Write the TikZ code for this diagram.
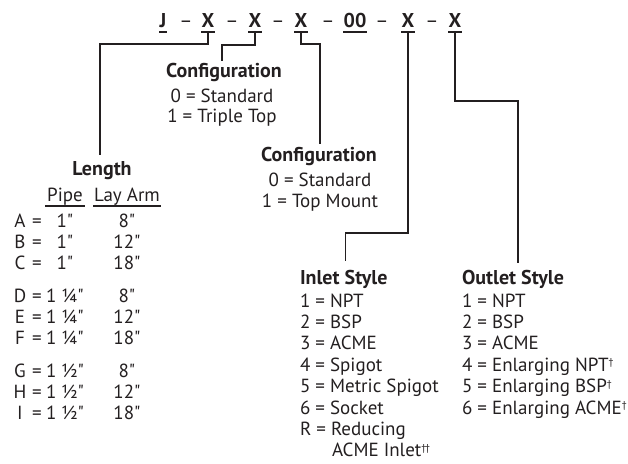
\documentclass[tikz,border=0pt]{standalone}
\usepackage{fontspec}
\setmainfont{PT Sans}
\usetikzlibrary{calc}
\definecolor{ink}{HTML}{231F20}
\begin{document}
\begin{tikzpicture}[x=1pt,y=-1pt,
  every node/.style={inner sep=0pt, outer sep=0pt, text=ink,
    font=\fontsize{19}{22}\selectfont},
  code/.style={font=\fontsize{20}{24}\selectfont\bfseries, text depth=0pt, anchor=base},
  sepdash/.style={font=\fontsize{20}{24}\selectfont, anchor=base},
  head/.style={font=\fontsize{20}{24}\selectfont\bfseries},
  conn/.style={draw=ink, line width=1.2pt},
  uline/.style={draw=ink, line width=2.4pt},
  colrule/.style={draw=ink, line width=1.2pt},
]
\useasboundingbox (0,0) rectangle (628,463);
\newcommand\qq{\textquotedbl}
\newcommand\dg{\raisebox{5.5pt}{\fontsize{10}{10}\selectfont †}}

% part number code
\node[code] (cJ)  at (163,27) {J};
\node[sepdash] (d1) at (186,27) {–};
\node[code] (cX1) at (208,27) {X};
\node[sepdash] (d2) at (232,27) {–};
\node[code] (cX2) at (255,27) {X};
\node[sepdash] (d3) at (278,27) {–};
\node[code] (cX3) at (301,27) {X};
\node[sepdash] (d4) at (328,27) {–};
\node[code] (c00) at (355,27) {00};
\node[sepdash] (d5) at (382,27) {–};
\node[code] (cX5) at (408,27) {X};
\node[sepdash] (d6) at (432,27) {–};
\node[code] (cX6) at (455,27) {X};
\foreach \n in {cJ,cX1,cX2,cX3,c00,cX5,cX6}
  \draw[uline] ([xshift=-0.5pt,yshift=-5pt]\n.south west) -- ([xshift=0.5pt,yshift=-5pt]\n.south east);

% length table
\node[head, anchor=base] (len) at (102,175) {Length};
\node[anchor=base] (pipe) at (65,201) {Pipe};
\node[anchor=base] (lay) at (127,201) {Lay Arm};
\draw[colrule] ([xshift=-2pt,yshift=-5pt]pipe.base west) -- ([xshift=2pt,yshift=-5pt]pipe.base east);
\draw[colrule] ([xshift=-1pt,yshift=-5pt]lay.base west) -- ([xshift=1pt,yshift=-5pt]lay.base east);
\foreach \L/\P/\A/\y in {A/1/8/227, B/1/12/248, C/1/18/269,
                         D/1 ¼/8/302, E/1 ¼/12/323, F/1 ¼/18/344,
                         G/1 ½/8/377, H/1 ½/12/398, I/1 ½/18/419} {
  \node[anchor=base] (key\L) at (20,\y) {\L};
  \node[anchor=base] (eq\L) at (37,\y) {=};
  \node[anchor=base] (pipe\L) at (65,\y) {\P\qq};
  \node[anchor=base] (lay\L) at (127,\y) {\A\qq};
}

% first configuration
\node[head, anchor=base] (cfgA) at (224,77) {Configuration};
\node[anchor=base] (cfgA0) at (222,102) {0 = Standard};
\node[anchor=base] (cfgA1) at (222,122) {1 = Triple Top};

% second configuration
\node[head, anchor=base] (cfgB) at (319,161) {Configuration};
\node[anchor=base] (cfgB0) at (320,186) {0 = Standard};
\node[anchor=base] (cfgB1) at (320,207) {1 = Top Mount};

% inlet style
\node[head, anchor=base west] (inHead) at (300,284) {Inlet Style};
\foreach \t [count=\i from 0] in {1 = NPT, 2 = BSP, 3 = ACME, 4 = Spigot,
    5 = Metric Spigot, 6 = Socket, R = Reducing}
  \node[anchor=base west] (in\i) at (300,307+21.4*\i) {\t};
\node[anchor=base west] (in7) at (332,456.8) {ACME Inlet\dg\kern-1pt\dg};

% outlet style
\node[head, anchor=base west] (outHead) at (462,284) {Outlet Style};
\foreach \t [count=\i from 0] in {1 = NPT, 2 = BSP, 3 = ACME, 4 = Enlarging NPT\dg,
    5 = Enlarging BSP\dg, 6 = Enlarging ACME\dg}
  \node[anchor=base west] (out\i) at (462,307+21.4*\i) {\t};

% leaders from the code positions
\draw[conn] ([yshift=-5pt]cX1.south) -- ++(0,12) -| ([xshift=-2pt,yshift=6pt]len.north);
\draw[conn] ([yshift=-5pt]cX2.south) -- ++(0,13) -| ([xshift=-2pt,yshift=2pt]cfgA.north);
\draw[conn] ([yshift=-5pt]cX3.south) -- ++(0,12) -| ([xshift=1pt,yshift=3pt]cfgB.north);
\draw[conn] ([yshift=-5pt]cX5.south) -- ++(0,201) -| ([xshift=2pt,yshift=9pt]inHead.north);
\draw[conn] ([yshift=-5pt]cX6.south) -- ++(0,69) -| ([xshift=5pt,yshift=7pt]outHead.north);
\end{tikzpicture}
\end{document}
